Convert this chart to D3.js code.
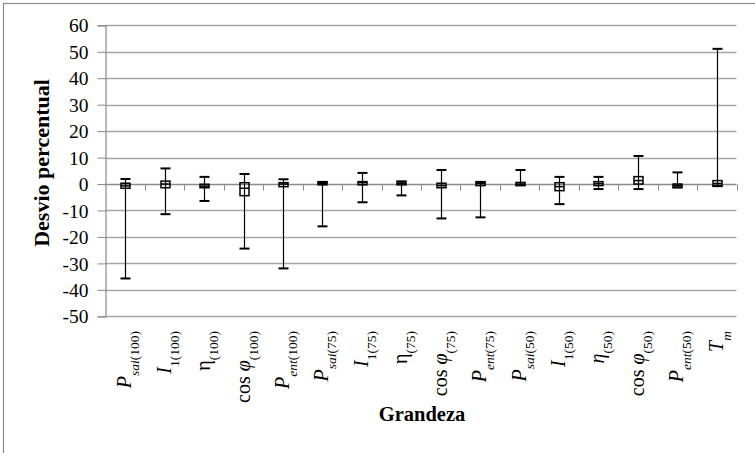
<!DOCTYPE html>
<html>
<head>
<meta charset="utf-8">
<script src="https://cdn.jsdelivr.net/npm/d3@7"></script>
<style>
  html, body { margin: 0; padding: 0; background: #fff; }
  svg { display: block; }
  svg text, svg tspan { font-family: "Liberation Serif", "Times New Roman", serif; fill: #000; }
</style>
</head>
<body>
<svg id="chart" width="755" height="453"></svg>
<script>
// ---- data ----
const categories = ["Psai(100)","I1(100)","η(100)","cosφ(100)","Pent(100)",
                    "Psai(75)","I1(75)","η(75)","cosφ(75)","Pent(75)",
                    "Psai(50)","I1(50)","η(50)","cosφ(50)","Pent(50)","Tm"];
const labelPrefix    = ["","","","cos ","", "","","","cos ","", "","","","cos ","",""];
const labelSymbol    = ["P","I","η","φ","P", "P","I","η","φ","P", "P","I","η","φ","P","T"];
const symbolItalic   = [1,1,0,1,1, 1,1,0,1,1, 1,1,1,1,1,1];
const labelSubItalic = ["sai","","","","ent", "sai","","","","ent", "sai","","","","ent","m"];
const labelSubPlain  = ["(100)","1(100)","(100)","(100)","(100)",
                        "(75)","1(75)","(75)","(75)","(75)",
                        "(50)","1(50)","(50)","(50)","(50)",""];
const maxValues  = [1.9, 5.9, 2.7, 3.8, 1.8, 0.5, 4.2, 1.0, 5.3, 0.5, 5.3, 2.7, 2.7, 10.6, 4.4, 51.1];
const minValues  = [-35.7, -11.4, -6.4, -24.4, -31.9, -16.0, -6.9, -4.3, -13.0, -12.6, -0.4, -7.6, -1.9, -1.9, -1.3, -0.8];
const boxHigh    = [0.3, 1.1, -0.1, 0.5, 0.5, 0.9, 0.9, 0.9, 0.3, 0.9, 0.6, 0.5, 0.9, 2.8, 0.0, 1.3];
const boxLow     = [-1.6, -1.4, -1.4, -4.4, -1.0, -0.3, -0.3, -0.3, -1.4, -0.6, -0.6, -2.5, -0.6, 0.0, -1.3, -0.8];
const meanValues = [-0.7, 0.0, -0.8, -1.6, 0.0, 0.3, 0.5, 0.3, -0.6, 0.2, 0.0, -1.0, 0.2, 1.3, -0.6, 0.2];
const yTicks = [-50,-40,-30,-20,-10,0,10,20,30,40,50,60];
const yTitle = "Desvio percentual";
const xTitle = "Grandeza";

// ---- layout ----
const FONT = "'Liberation Serif', 'Times New Roman', serif";
const svg = d3.select("#chart");
const plot = {left: 105.5, right: 736.5, top: 25.3, bottom: 316.3};

svg.append("rect").attr("x", 3.5).attr("y", 3.5).attr("width", 760).attr("height", 460)
   .attr("fill", "#fff").attr("stroke", "#8a8a8a").attr("stroke-width", 1.2);

const x = d3.scaleBand().domain(categories).range([plot.left, plot.right]).padding(0);
const y = d3.scaleLinear().domain([-50, 60]).range([plot.bottom, plot.top]);

// gridlines
svg.append("g").selectAll("line").data(yTicks.filter(v => v !== 0)).join("line")
  .attr("x1", plot.left).attr("x2", plot.right)
  .attr("y1", d => Math.round(y(d)) + 0.5).attr("y2", d => Math.round(y(d)) + 0.5)
  .attr("stroke", "#a6a6a6").attr("stroke-width", 1.3);

// y axis
const yAxis = d3.axisLeft(y).tickValues(yTicks).tickSize(8).tickPadding(9)
  .tickFormat(d => d < 0 ? "-" + Math.abs(d) : String(d));
const gy = svg.append("g").attr("transform", `translate(${plot.left},0)`).call(yAxis)
  .attr("font-family", FONT).attr("font-size", 19.5);
gy.select(".domain").attr("stroke", "#8a8a8a").attr("stroke-width", 1.2);
gy.selectAll(".tick line").attr("stroke", "#8a8a8a");
gy.selectAll(".tick text").attr("fill", "#000").attr("dy", "0.34em");

// x axis at zero
const y0 = Math.round(y(0)) + 0.5;
svg.append("line").attr("x1", plot.left).attr("x2", plot.right).attr("y1", y0).attr("y2", y0)
   .attr("stroke", "#8a8a8a").attr("stroke-width", 1.3);
svg.append("g").selectAll("line").data(categories).join("line")
  .attr("x1", d => Math.round(x(d) + x.bandwidth()) + 0.5)
  .attr("x2", d => Math.round(x(d) + x.bandwidth()) + 0.5)
  .attr("y1", y0).attr("y2", y0 + 6)
  .attr("stroke", "#8a8a8a").attr("stroke-width", 1);

// error bars + boxes
const cx = i => Math.round(x(categories[i]) + x.bandwidth() / 2) + 0.5;
const marks = svg.append("g");
categories.forEach((c, i) => {
  const g = marks.append("g");
  const X = cx(i);
  g.append("line").attr("x1", X).attr("x2", X).attr("y1", y(maxValues[i])).attr("y2", y(minValues[i]))
    .attr("stroke", "#000").attr("stroke-width", 1.2);
  [maxValues[i], minValues[i]].forEach(v => {
    g.append("line").attr("x1", X - 5).attr("x2", X + 5).attr("y1", y(v)).attr("y2", y(v))
      .attr("stroke", "#000").attr("stroke-width", 2);
  });
  g.append("rect").attr("x", X - 4.5).attr("width", 9)
    .attr("y", y(boxHigh[i])).attr("height", Math.max(1, y(boxLow[i]) - y(boxHigh[i])))
    .attr("fill", "none").attr("stroke", "#000").attr("stroke-width", 1.5);
  g.append("line").attr("x1", X - 4.5).attr("x2", X + 4.5).attr("y1", y(meanValues[i])).attr("y2", y(meanValues[i]))
    .attr("stroke", "#000").attr("stroke-width", 1.5);
});

// x category labels
const labels = svg.append("g").attr("font-family", FONT);
categories.forEach((c, i) => {
  const X = x(c) + x.bandwidth() / 2 + 6;
  const t = labels.append("text").attr("transform", `translate(${X},331) rotate(-90)`)
    .attr("text-anchor", "end").attr("font-size", 20);
  if (labelPrefix[i]) t.append("tspan").text(labelPrefix[i]);
  t.append("tspan").text(labelSymbol[i]).attr("font-style", symbolItalic[i] ? "italic" : "normal");
  let first = true;
  if (labelSubItalic[i]) {
    t.append("tspan").attr("dy", 8).attr("font-size", 13.5).attr("font-style", "italic").text(labelSubItalic[i]);
    first = false;
  }
  if (labelSubPlain[i]) {
    const s = t.append("tspan").attr("font-size", 13.5).text(labelSubPlain[i]);
    if (first) s.attr("dy", 8);
  }
});

// titles
svg.append("text").attr("transform", `translate(49,163) rotate(-90)`)
  .attr("text-anchor", "middle").attr("font-family", FONT).attr("font-size", 22).attr("font-weight", "bold").text(yTitle);
svg.append("text").attr("x", 422).attr("y", 421).attr("text-anchor", "middle").attr("font-family", FONT)
  .attr("font-size", 20.5).attr("font-weight", "bold").text(xTitle);
</script>
</body>
</html>
